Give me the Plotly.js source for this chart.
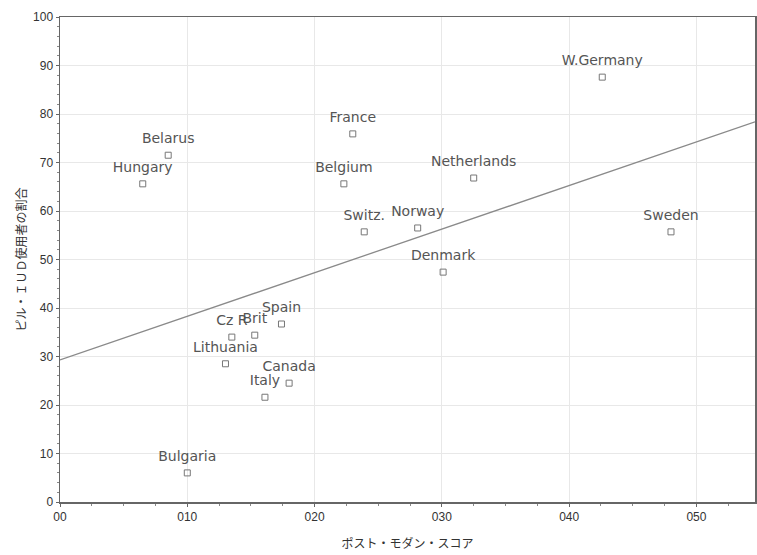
<!DOCTYPE html>
<html><head><meta charset="utf-8">
<script src="https://cdn.plot.ly/plotly-3.0.1.min.js"></script>
<style>html,body{margin:0;padding:0;background:#fff}</style>
</head><body>
<div id="chart" style="width:757px;height:555px"></div>
<script>
const countries = ["W.Germany","France","Belarus","Hungary","Belgium","Netherlands","Switz.","Norway","Sweden","Denmark","Spain","Brit","Cz R","Lithuania","Canada","Italy","Bulgaria"];
const postModernScore = [0.0426,0.0230,0.0085,0.0065,0.0223,0.0325,0.0239,0.0281,0.0480,0.0301,0.0174,0.0153,0.0135,0.0130,0.0180,0.0161,0.0100];
const pillIudShare = [87.6,75.9,71.5,65.6,65.6,66.8,55.7,56.5,55.7,47.4,36.7,34.4,34.0,28.5,24.5,21.6,6.0];
const fitIntercept = 29.3;
const fitSlope = 899;
const xTickVals = [0,0.01,0.02,0.03,0.04,0.05];
const xTickText = ["00","010","020","030","040","050"];
const xRange = [0,0.0546];

const lineX = xRange.slice();
const lineY = lineX.map(x => fitIntercept + fitSlope*x);

const traces = [
  {x: lineX, y: lineY, mode:'lines', line:{color:'#8a8a8a', width:1.3}, hoverinfo:'skip', showlegend:false},
  {x: postModernScore, y: pillIudShare, mode:'markers+text', text: countries, textposition:'top center',
   textfont:{family:'DejaVu Sans, sans-serif', size:14, color:'#555'},
   marker:{size:12, opacity:0}, showlegend:false},
  {x: postModernScore, y: pillIudShare, mode:'markers',
   marker:{symbol:'square-open', size:6, color:'#777', line:{width:1}}, showlegend:false}
];

const layout = {
  width:757, height:555,
  margin:{l:60, r:2, t:17, b:53},
  paper_bgcolor:'#fff', plot_bgcolor:'#fff',
  font:{family:'Liberation Sans, Arial, sans-serif', size:12, color:'#333'},
  xaxis:{range:xRange, tickvals:xTickVals, ticktext:xTickText, showgrid:true, gridcolor:'#e8e8e8',
    zeroline:false, showline:true, linecolor:'#666', linewidth:1.5, mirror:true, ticks:'outside', ticklen:3, tickcolor:'#666',
    minor:{ticks:'outside', ticklen:2, dtick:0.0025, tickcolor:'#888', showgrid:false},
    tickfont:{size:12,color:'#333'},
    title:{text:'ポスト・モダン・スコア', font:{family:'Noto Sans CJK JP, sans-serif', size:12, color:'#333'}, standoff:16}},
  yaxis:{range:[0,100], dtick:10, showgrid:true, gridcolor:'#e8e8e8',
    zeroline:false, showline:true, linecolor:'#666', linewidth:1.5, mirror:true, ticks:'outside', ticklen:3, tickcolor:'#666',
    minor:{ticks:'outside', ticklen:2, dtick:2, tickcolor:'#888', showgrid:false},
    tickfont:{size:12,color:'#333'},
    title:{text:'ピル・ＩＵＤ使用者の割合', font:{family:'Noto Sans CJK JP, sans-serif', size:12, color:'#333'}, standoff:4}}
};
Plotly.newPlot('chart', traces, layout, {displayModeBar:false, staticPlot:true});
</script>
</body></html>
